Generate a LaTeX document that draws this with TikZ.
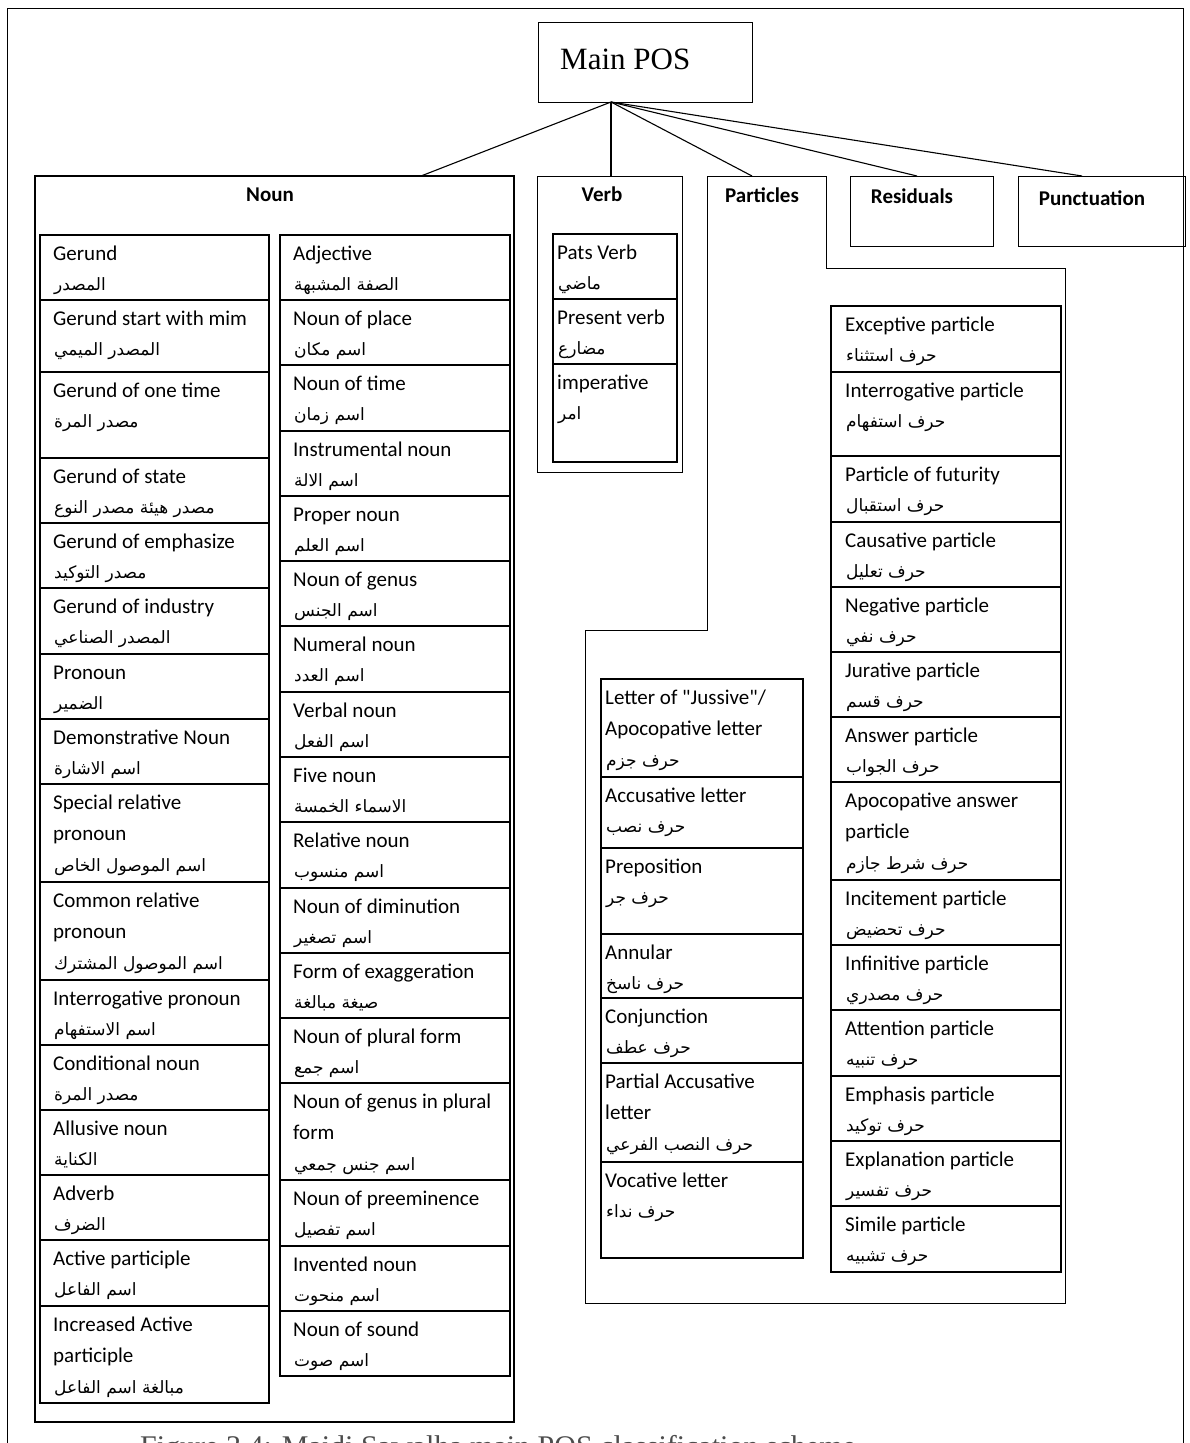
\documentclass[tikz,border=0pt]{standalone}
\usepackage{fontspec}
\setmainfont{Carlito}
\newfontfamily\arabicfont[Script=Arabic]{DejaVu Sans}
\newfontfamily\serifcap{Liberation Serif}
\TeXXeTstate=1
\usetikzlibrary{calc}

\tikzset{
  cellbox/.style={draw, line width=1.1pt, anchor=north west, inner sep=0pt, outer sep=0pt},
  groupbox/.style={draw, line width=1pt, anchor=north west, inner sep=0pt, outer sep=0pt},
  entext/.style={anchor=base west, inner sep=0pt, font=\fontsize{21}{25}\selectfont},
  artext/.style={anchor=base west, inner sep=0pt, font=\fontsize{17}{20}\arabicfont},
  head/.style={inner sep=0pt, font=\fontsize{21}{25}\selectfont\bfseries},
  link/.style={line width=1.1pt},
}

% one English line + Arabic line: name, x, top, bottom, width, pad, english, arabic
\newcommand{\posA}[8]{%
  \node[cellbox, minimum width=#5pt, minimum height={(#4-#3)*1pt}] (#1) at (#2,#3) {};
  \node[entext] (#1-e1) at ([shift={(#6pt,-25pt)}]#1.north west) {#7};
  \node[artext] (#1-ar) at ([shift={(1pt,-30pt)}]#1-e1.base west) {#8};
}
% two English lines + Arabic line
\newcommand{\posB}[9]{%
  \node[cellbox, minimum width=#5pt, minimum height={(#4-#3)*1pt}] (#1) at (#2,#3) {};
  \node[entext] (#1-e1) at ([shift={(#6pt,-25pt)}]#1.north west) {#7};
  \node[entext] (#1-e2) at ([yshift=-31pt]#1-e1.base west) {#8};
  \node[artext] (#1-ar) at ([shift={(1pt,-31pt)}]#1-e2.base west) {#9};
}

\begin{document}
\begin{tikzpicture}[x=1pt,y=-1pt]
\useasboundingbox (0,0) rectangle (1189,1443);
\fill[white] (0,0) rectangle (1189,1443);

% page frame
\draw[line width=1pt] (7,1470) -- (7,8) -- (1183,8) -- (1183,1470);

% root
\node[groupbox, minimum width=214pt, minimum height=80pt] (main) at (538,22) {};
\node[anchor=base west, inner sep=0pt, font=\serifcap\fontsize{31}{36}\selectfont] (mainlabel) at (560,69) {Main POS};

% top-level categories
\node[groupbox, line width=1.5pt, minimum width=479pt, minimum height=1246pt] (noun) at (35,176) {};
\node[groupbox, minimum width=145pt, minimum height=296pt] (verb) at (537,176) {};
\node[anchor=north west, inner sep=0pt, outer sep=0pt, minimum width=119pt, minimum height=92pt] (particles) at (707,176) {};
\draw[line width=1pt] (particles.north west) -- (particles.north east) -- (particles.south east)
  -- (1065,268) -- (1065,1303) -- (585,1303) -- (585,630) -- (707,630) -- cycle;
\node[groupbox, minimum width=143pt, minimum height=70pt] (residuals) at (850,176) {};
\node[groupbox, minimum width=167pt, minimum height=70pt] (punct) at (1018,176) {};

\node[head] (nounH) at (270,195) {Noun};
\node[head] (verbH) at (602,194) {Verb};
\node[head] (partH) at (762,195) {Particles};
\node[head] (resH) at (912,196) {Residuals};
\node[head] (punctH) at (1092,198) {Punctuation};

% connectors from the root
\coordinate (hub) at ([xshift=-34pt]main.south);
\draw[link] (hub) -- ([xshift=386pt]noun.north west);
\draw[link] (hub) -- ([xshift=74pt]verb.north west);
\draw[link] (hub) -- ([xshift=45pt]particles.north west);
\draw[link] (hub) -- ([xshift=67pt]residuals.north west);
\draw[link] (hub) -- ([xshift=64pt]punct.north west);

% noun, first column
\posA{g1}{40}{235}{300}{229}{13}{Gerund}{\beginR المصدر\endR}
\posA{g2}{40}{300}{372}{229}{13}{Gerund start with mim}{\beginR المصدر الميمي\endR}
\posA{g3}{40}{372}{458}{229}{13}{Gerund of one time}{\beginR مصدر المرة\endR}
\posA{g4}{40}{458}{523}{229}{13}{Gerund of state}{\beginR مصدر هيئة مصدر النوع\endR}
\posA{g5}{40}{523}{588}{229}{13}{Gerund of emphasize}{\beginR مصدر التوكيد\endR}
\posA{g6}{40}{588}{654}{229}{13}{Gerund of industry}{\beginR المصدر الصناعي\endR}
\posA{g7}{40}{654}{719}{229}{13}{Pronoun}{\beginR الضمير\endR}
\posA{g8}{40}{719}{784}{229}{13}{Demonstrative Noun}{\beginR اسم الاشارة\endR}
\posB{g9}{40}{784}{882}{229}{13}{Special relative}{pronoun}{\beginR اسم الموصول الخاص\endR}
\posB{g10}{40}{882}{980}{229}{13}{Common relative}{pronoun}{\beginR اسم الموصول المشترك\endR}
\posA{g11}{40}{980}{1045}{229}{13}{Interrogative pronoun}{\beginR اسم الاستفهام\endR}
\posA{g12}{40}{1045}{1110}{229}{13}{Conditional noun}{\beginR مصدر المرة\endR}
\posA{g13}{40}{1110}{1175}{229}{13}{Allusive noun}{\beginR الكناية\endR}
\posA{g14}{40}{1175}{1240}{229}{13}{Adverb}{\beginR الضرف\endR}
\posA{g15}{40}{1240}{1306}{229}{13}{Active participle}{\beginR اسم الفاعل\endR}
\posB{g16}{40}{1306}{1403}{229}{13}{Increased Active}{participle}{\beginR مبالغة اسم الفاعل\endR}

% noun, second column
\posA{n1}{280}{235}{300}{230}{13}{Adjective}{\beginR الصفة المشبهة\endR}
\posA{n2}{280}{300}{365}{230}{13}{Noun of place}{\beginR اسم مكان\endR}
\posA{n3}{280}{365}{431}{230}{13}{Noun of time}{\beginR اسم زمان\endR}
\posA{n4}{280}{431}{496}{230}{13}{Instrumental noun}{\beginR اسم الالة\endR}
\posA{n5}{280}{496}{561}{230}{13}{Proper noun}{\beginR اسم العلم\endR}
\posA{n6}{280}{561}{626}{230}{13}{Noun of genus}{\beginR اسم الجنس\endR}
\posA{n7}{280}{626}{692}{230}{13}{Numeral noun}{\beginR اسم العدد\endR}
\posA{n8}{280}{692}{757}{230}{13}{Verbal noun}{\beginR اسم الفعل\endR}
\posA{n9}{280}{757}{822}{230}{13}{Five noun}{\beginR الاسماء الخمسة\endR}
\posA{n10}{280}{822}{888}{230}{13}{Relative noun}{\beginR اسم منسوب\endR}
\posA{n11}{280}{888}{953}{230}{13}{Noun of diminution}{\beginR اسم تصغير\endR}
\posA{n12}{280}{953}{1018}{230}{13}{Form of exaggeration}{\beginR صيغة مبالغة\endR}
\posA{n13}{280}{1018}{1083}{230}{13}{Noun of plural form}{\beginR اسم جمع\endR}
\posB{n14}{280}{1083}{1180}{230}{13}{Noun of genus in plural}{form}{\beginR اسم جنس جمعي\endR}
\posA{n15}{280}{1180}{1246}{230}{13}{Noun of preeminence}{\beginR اسم تفصيل\endR}
\posA{n16}{280}{1246}{1311}{230}{13}{Invented noun}{\beginR اسم منحوت\endR}
\posA{n17}{280}{1311}{1376}{230}{13}{Noun of sound}{\beginR اسم صوت\endR}

% verb
\posA{v1}{553}{234}{299}{124}{4}{Pats Verb}{\beginR ماضي\endR}
\posA{v2}{553}{299}{364}{124}{4}{Present verb}{\beginR مضارع\endR}
\posA{v3}{553}{364}{462}{124}{4}{imperative}{\beginR امر\endR}

% particles, letters column
\posB{p1}{601}{679}{777}{202}{4}{Letter of \textquotedbl Jussive\textquotedbl/}{Apocopative letter}{\beginR حرف جزم\endR}
\posA{p2}{601}{777}{848}{202}{4}{Accusative letter}{\beginR حرف نصب\endR}
\posA{p3}{601}{848}{934}{202}{4}{Preposition}{\beginR حرف جر\endR}
\posA{p4}{601}{934}{998}{202}{4}{Annular}{\beginR حرف ناسخ\endR}
\posA{p5}{601}{998}{1063}{202}{4}{Conjunction}{\beginR حرف عطف\endR}
\posB{p6}{601}{1063}{1162}{202}{4}{Partial Accusative}{letter}{\beginR حرف النصب الفرعي\endR}
\posA{p7}{601}{1162}{1258}{202}{4}{Vocative letter}{\beginR حرف نداء\endR}

% particles, particle column
\posA{q1}{831}{306}{372}{230}{14}{Exceptive particle}{\beginR حرف استثناء\endR}
\posA{q2}{831}{372}{456}{230}{14}{Interrogative particle}{\beginR حرف استفهام\endR}
\posA{q3}{831}{456}{522}{230}{14}{Particle of futurity}{\beginR حرف استقبال\endR}
\posA{q4}{831}{522}{587}{230}{14}{Causative particle}{\beginR حرف تعليل\endR}
\posA{q5}{831}{587}{652}{230}{14}{Negative particle}{\beginR حرف نفي\endR}
\posA{q6}{831}{652}{717}{230}{14}{Jurative particle}{\beginR حرف قسم\endR}
\posA{q7}{831}{717}{782}{230}{14}{Answer particle}{\beginR حرف الجواب\endR}
\posB{q8}{831}{782}{880}{230}{14}{Apocopative answer}{particle}{\beginR حرف شرط جازم\endR}
\posA{q9}{831}{880}{945}{230}{14}{Incitement particle}{\beginR حرف تحضيض\endR}
\posA{q10}{831}{945}{1010}{230}{14}{Infinitive particle}{\beginR حرف مصدري\endR}
\posA{q11}{831}{1010}{1076}{230}{14}{Attention particle}{\beginR حرف تنبيه\endR}
\posA{q12}{831}{1076}{1141}{230}{14}{Emphasis particle}{\beginR حرف توكيد\endR}
\posA{q13}{831}{1141}{1206}{230}{14}{Explanation particle}{\beginR حرف تفسير\endR}
\posA{q14}{831}{1206}{1272}{230}{14}{Simile particle}{\beginR حرف تشبيه\endR}

% caption, cut by the page edge
\node[anchor=base west, inner sep=0pt, text=black!70, font=\serifcap\fontsize{30}{36}\selectfont] (caption) at (140,1456) {Figure 3.4: Maidi Sawalha main POS classification scheme};
\end{tikzpicture}
\end{document}
